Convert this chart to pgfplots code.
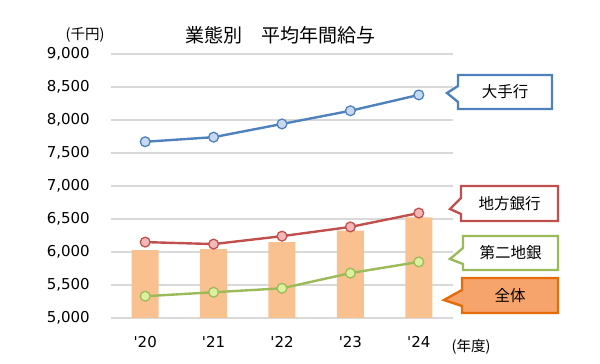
\documentclass[border=0pt]{standalone}
\usepackage{fontspec}
\setmainfont{DejaVu Sans}
\newfontfamily\jp{Noto Sans CJK JP}
\usepackage{pgfplots}
\pgfplotsset{compat=1.18}
\definecolor{cBlue}{RGB}{79,129,189}
\definecolor{cBlueL}{RGB}{198,217,241}
\definecolor{cRed}{RGB}{192,80,77}
\definecolor{cRedL}{RGB}{242,184,184}
\definecolor{cGreen}{RGB}{155,187,89}
\definecolor{cGreenL}{RGB}{221,240,160}
\definecolor{cBar}{RGB}{249,192,144}
\definecolor{cOrange}{RGB}{246,163,108}
\definecolor{cOrangeD}{RGB}{228,108,10}
\definecolor{gridgray}{RGB}{217,217,217}
\begin{document}
\begin{tikzpicture}
\useasboundingbox (0,0) rectangle (600pt,364pt);
\begin{axis}[
  at={(111pt,46pt)}, anchor=south west, scale only axis,
  width=342pt, height=264pt,
  xmin=-0.5, xmax=4.5, ymin=5000, ymax=9000,
  ytick={5000,5500,...,9000},
  xtick={0,1,2,3,4},
  xticklabels={\textquotesingle20,\textquotesingle21,\textquotesingle22,\textquotesingle23,\textquotesingle24},
  axis line style={draw=none},
  major tick length=0pt,
  ymajorgrids,
  grid style={color=gridgray, line width=1.2pt},
  tick label style={font=\fontsize{15}{18}\selectfont},
  /pgf/number format/assume math mode=true,
  /pgf/number format/1000 sep={,},
  scaled y ticks=false,
  yticklabel style={inner sep=0pt, anchor=east, xshift=-21pt},
  xticklabel style={inner sep=0pt, anchor=north, yshift=-18pt},
]
\addplot[ybar, bar width=27pt, fill=cBar, draw=none] coordinates {(0,6030)(1,6045)(2,6150)(3,6325)(4,6525)};
\addplot[color=cBlue, line width=2.4pt, mark=*, mark size=4.9pt, mark options={fill=cBlueL, draw=cBlue, line width=1.3pt}] coordinates {(0,7670)(1,7740)(2,7940)(3,8140)(4,8380)};
\addplot[color=cRed, line width=2.4pt, mark=*, mark size=4.9pt, mark options={fill=cRedL, draw=cRed, line width=1.3pt}] coordinates {(0,6150)(1,6120)(2,6240)(3,6380)(4,6590)};
\addplot[color=cGreen, line width=2.4pt, mark=*, mark size=4.9pt, mark options={fill=cGreenL, draw=cGreen, line width=1.3pt}] coordinates {(0,5330)(1,5390)(2,5450)(3,5680)(4,5850)};
\end{axis}
\begin{scope}[x=1pt,y=1pt]
\node[font=\jp\fontsize{19}{21}\selectfont] at (280,329) {業態別　平均年間給与};
\node[font=\jp\fontsize{14.5}{16}\selectfont] at (85,329) {(千円)};
\node[font=\jp\fontsize{14.5}{16}\selectfont] at (471,17) {(年度)};
% callouts
\draw[cBlue, line width=2.4pt, fill=white, line join=miter]
  (458,289) -- (552,289) -- (552,255) -- (458,255) -- (458,262) -- (447,271) -- (458,278) -- cycle;
\node[font=\jp\fontsize{15.5}{17}\selectfont] at (505,272) {大手行};
\draw[cRed, line width=2.4pt, fill=white, line join=miter]
  (461,178) -- (558,178) -- (558,143) -- (461,143) -- (461,150) -- (450,155) -- (461,166) -- cycle;
\node[font=\jp\fontsize{15.5}{17}\selectfont] at (509.5,160.5) {地方銀行};
\draw[cGreen, line width=2.4pt, fill=white, line join=miter]
  (463,128) -- (558,128) -- (558,94) -- (463,94) -- (463,100) -- (450,105) -- (463,116) -- cycle;
\node[font=\jp\fontsize{15.5}{17}\selectfont] at (510.5,111) {第二地銀};
\draw[cOrangeD, line width=2.4pt, fill=cOrange, line join=miter]
  (462,86) -- (558,86) -- (558,51) -- (462,51) -- (462,58) -- (444,64) -- (462,74) -- cycle;
\node[font=\jp\fontsize{15.5}{17}\selectfont] at (510,68.5) {全体};
\end{scope}
\end{tikzpicture}
\end{document}
